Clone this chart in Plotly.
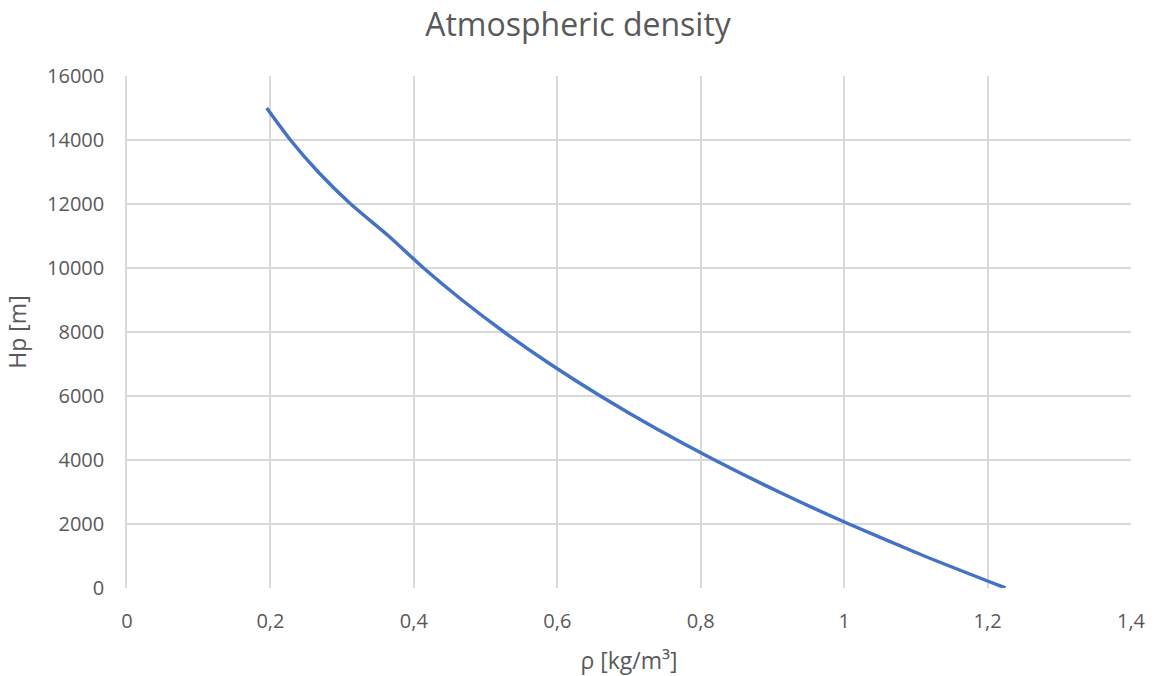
import plotly.graph_objects as go

altitude_m = [0, 1000, 2000, 3000, 4000, 5000, 6000, 7000, 8000, 9000, 10000, 11000, 12000, 13000, 14000, 15000]
density = [1.2250, 1.1117, 1.0066, 0.9093, 0.8194, 0.7364, 0.6601, 0.5900, 0.5258, 0.4671, 0.4135, 0.3648, 0.3119, 0.2666, 0.2279, 0.1948]

font_family = "Open Sans, Liberation Sans, sans-serif"
text_color = "#595959"
grid_color = "#d9d9d9"

fig = go.Figure()
fig.add_trace(go.Scatter(
    x=density, y=altitude_m, mode="lines",
    line=dict(color="#4472C4", width=3.5, shape="spline", smoothing=0.6),
    showlegend=False,
))

fig.update_layout(
    width=1156, height=676,
    paper_bgcolor="white", plot_bgcolor="white",
    margin=dict(l=127, r=25, t=76, b=88),
    separators=", ",
    title=dict(text="Atmospheric density", x=0.5, xanchor="center", y=0.963, yanchor="middle",
               font=dict(family=font_family, size=32, color=text_color)),
    font=dict(family=font_family, color=text_color),
)
fig.update_xaxes(
    range=[0, 1.4], dtick=0.2, tick0=0,
    showgrid=True, gridcolor=grid_color, gridwidth=1.5,
    zeroline=False, showline=False, ticks="", automargin=False,
    tickfont=dict(size=20, color=text_color), ticklabelstandoff=19,
    title=dict(text="ρ [kg/m³]", font=dict(size=23, color=text_color), standoff=19),
)
fig.update_yaxes(
    range=[0, 16000], dtick=2000, tickformat="d",
    showgrid=True, gridcolor=grid_color, gridwidth=1.5,
    zeroline=False, showline=True, linecolor=grid_color, linewidth=1.5, ticks="", automargin=False,
    tickfont=dict(size=20, color=text_color), ticklabelstandoff=17,
    title=dict(text="Hp [m]", font=dict(size=23, color=text_color), standoff=14),
)

fig.write_html("out.html", config={"displayModeBar": False},
               post_script="document.body.style.margin='0';")
